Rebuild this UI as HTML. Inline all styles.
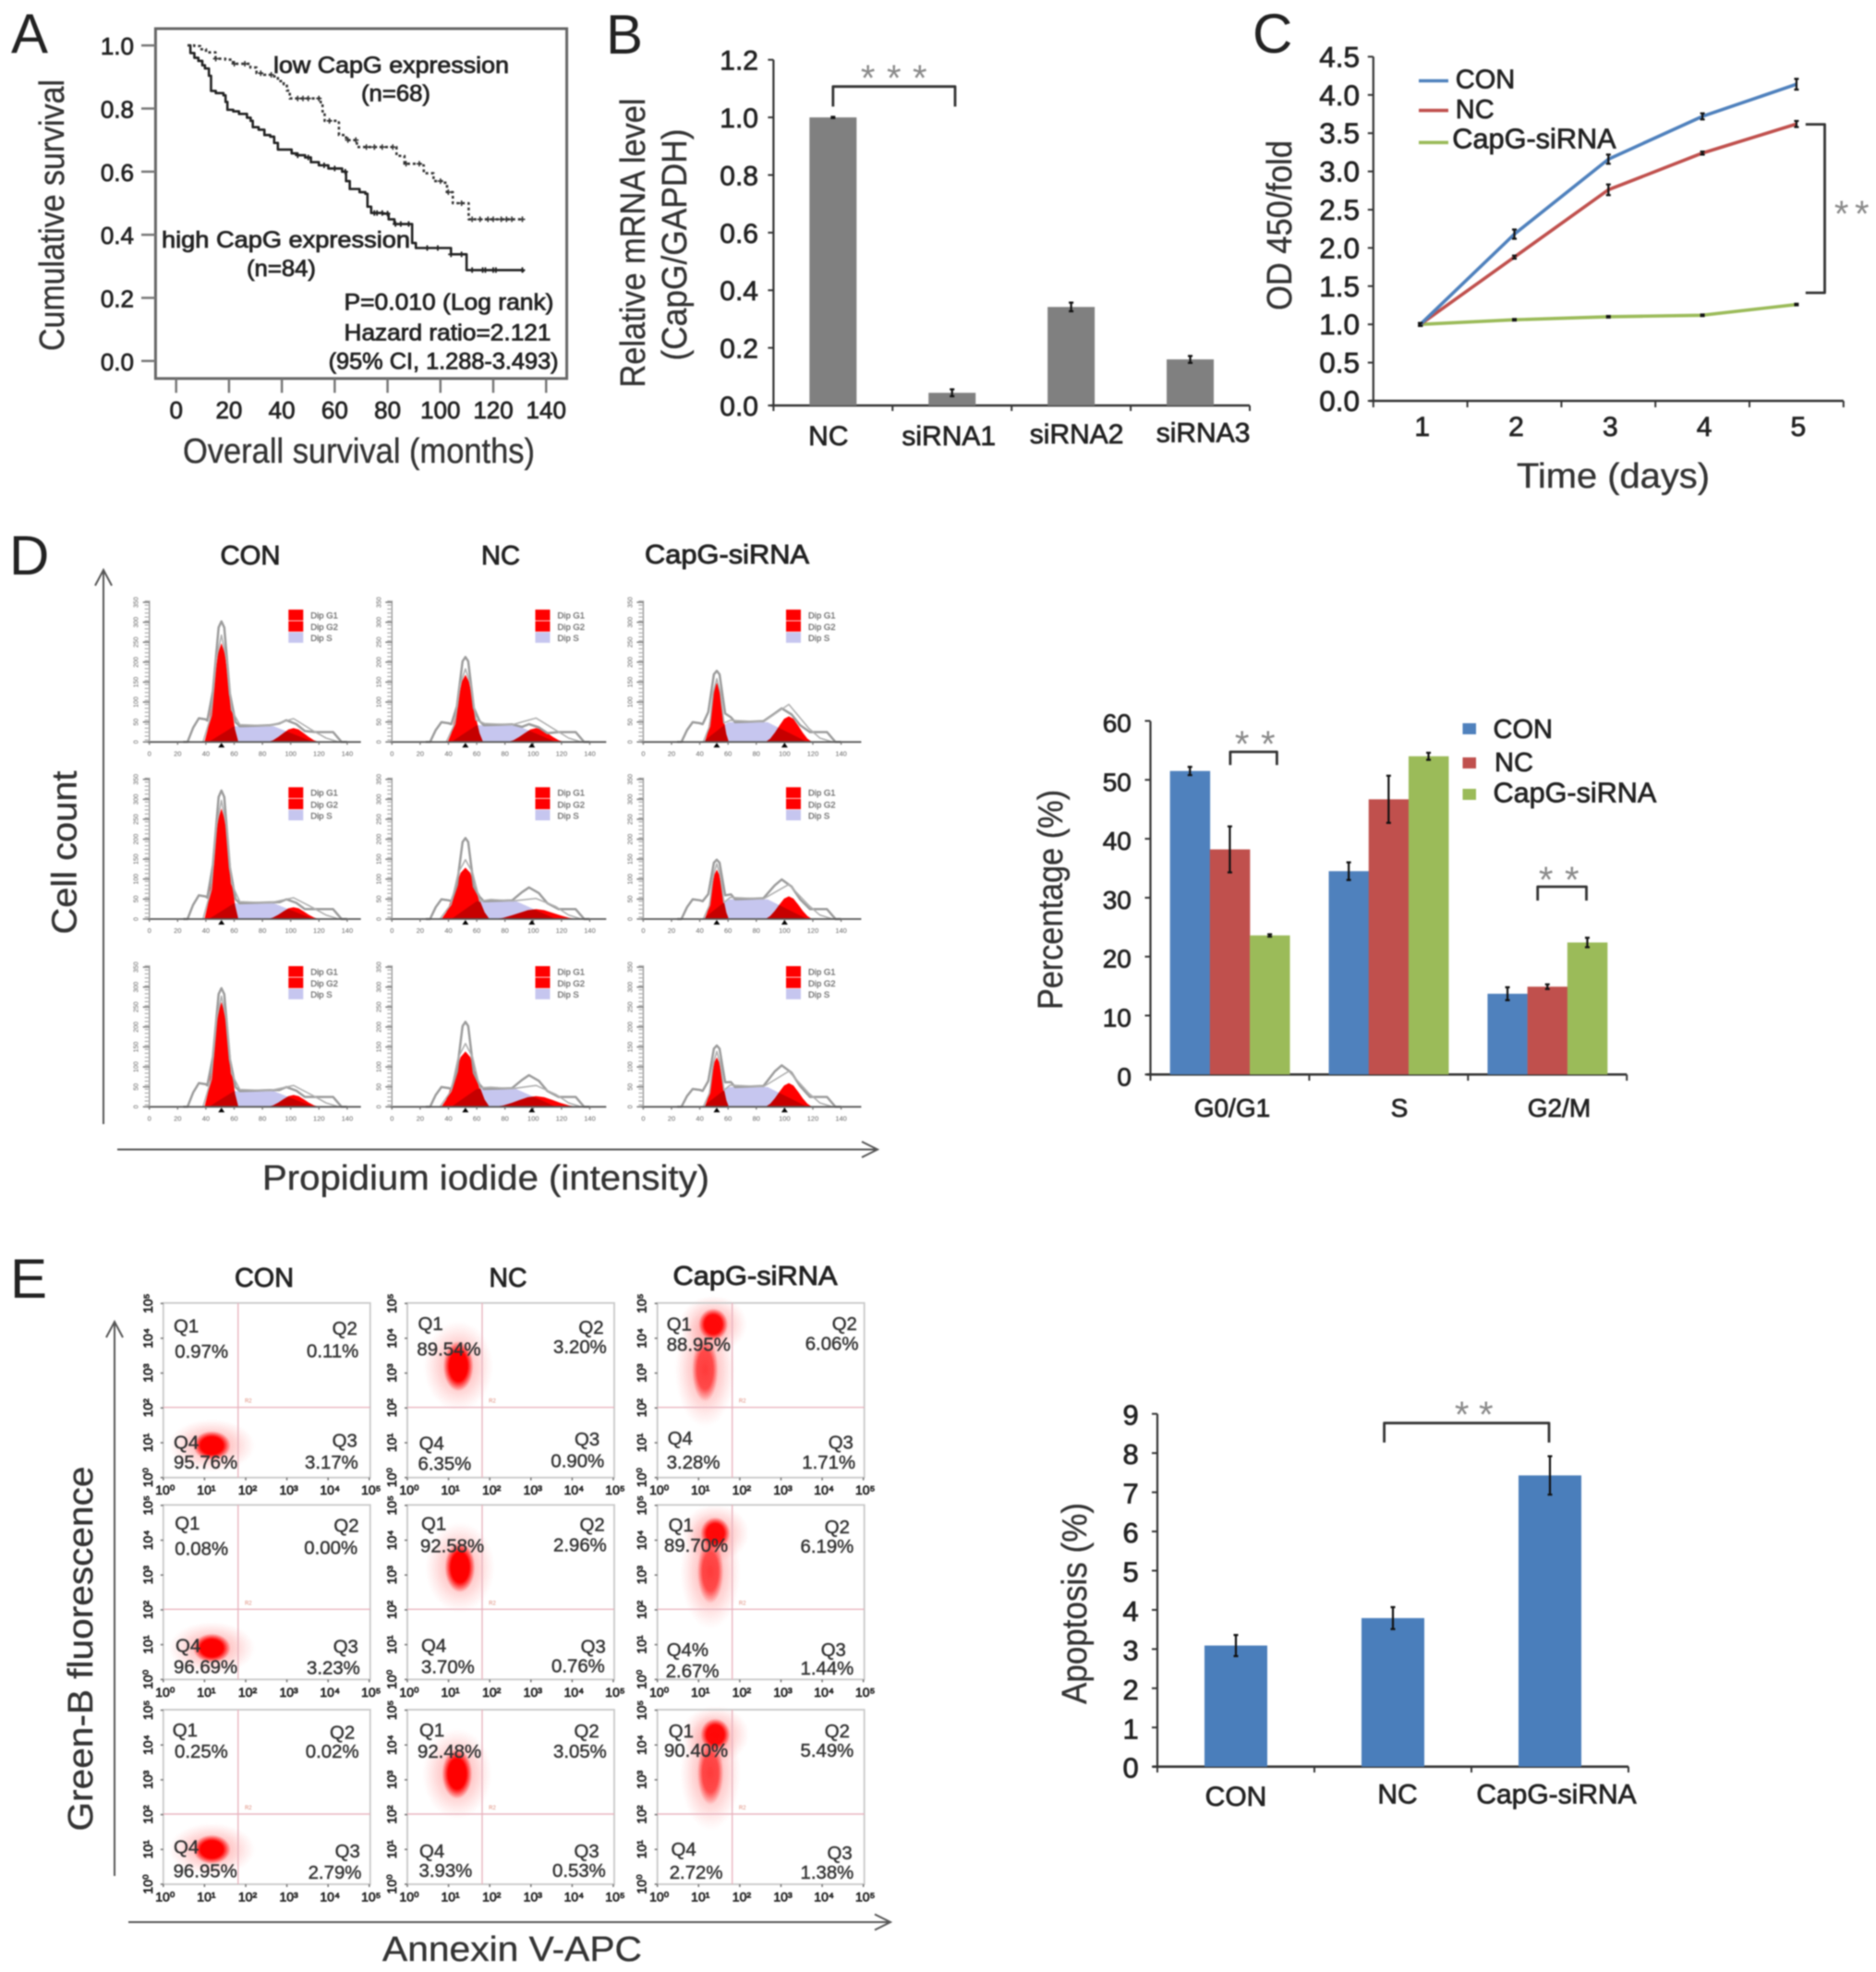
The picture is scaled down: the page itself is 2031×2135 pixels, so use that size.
<!DOCTYPE html>
<html lang="en">
<head>
<meta charset="utf-8">
<title>CapG knockdown figure</title>
<style>
html,body{margin:0;padding:0;background:#fff;width:2031px;height:2135px;overflow:hidden}
svg{display:block;filter:blur(.7px)}
text{font-family:"Liberation Sans",sans-serif}
.ltr{font-size:60px;fill:#222}
.ttl{font-size:38px;fill:#333;stroke:#333;stroke-width:.35px}
.anno{font-size:25px;fill:#222;stroke:#222;stroke-width:.8px}
.hd{font-size:29px;fill:#222;stroke:#222;stroke-width:.9px}
.star{font-size:40px;fill:#8a8a8a;letter-spacing:12.5px}
.q{font-size:20.4px;fill:#333;stroke:#333;stroke-width:.45px}
</style>
</head>
<body>
<svg id="fig" xmlns="http://www.w3.org/2000/svg" width="2031" height="2135" viewBox="0 0 2031 2135">
<defs>
<radialGradient id="blobCore"><stop offset="0" stop-color="#f00"/><stop offset=".6" stop-color="#f00"/><stop offset="1" stop-color="#f00" stop-opacity="0"/></radialGradient>
<radialGradient id="blobHalo"><stop offset="0" stop-color="#f22" stop-opacity=".45"/><stop offset=".6" stop-color="#f44" stop-opacity=".2"/><stop offset="1" stop-color="#f66" stop-opacity="0"/></radialGradient>
</defs>

<text class="ltr" x="12" y="57">A</text>
<text class="ltr" x="656" y="58">B</text>
<text class="ltr" x="1356" y="57">C</text>
<text class="ltr" x="10" y="622">D</text>
<text class="ltr" x="11" y="1405">E</text>

<!-- Panel A static text -->
<rect x="168.4" y="31" width="445.2" height="378.8" fill="none" stroke="#666" stroke-width="3"/>
<text class="ttl" transform="translate(69,233) rotate(-90)" text-anchor="middle" textLength="294" lengthAdjust="spacingAndGlyphs">Cumulative survival</text>
<text class="ttl" x="198" y="501" textLength="381" lengthAdjust="spacingAndGlyphs">Overall survival (months)</text>
<text class="anno" x="296" y="79" textLength="255" lengthAdjust="spacingAndGlyphs">low CapG expression</text>
<text class="anno" x="391" y="109.5" textLength="75" lengthAdjust="spacingAndGlyphs">(n=68)</text>
<text class="anno" x="175" y="268" textLength="269" lengthAdjust="spacingAndGlyphs">high CapG expression</text>
<text class="anno" x="267" y="299" textLength="75" lengthAdjust="spacingAndGlyphs">(n=84)</text>
<text class="anno" x="372.5" y="335.7" textLength="227" lengthAdjust="spacingAndGlyphs">P=0.010 (Log rank)</text>
<text class="anno" x="372.5" y="368.5" textLength="224" lengthAdjust="spacingAndGlyphs">Hazard ratio=2.121</text>
<text class="anno" x="355.6" y="399.5" textLength="249" lengthAdjust="spacingAndGlyphs">(95% CI, 1.288-3.493)</text>

<!-- Panel B static text -->
<text class="ttl" transform="translate(698,263) rotate(-90)" text-anchor="middle" textLength="313" lengthAdjust="spacingAndGlyphs">Relative mRNA level</text>
<text class="ttl" transform="translate(743,265) rotate(-90)" text-anchor="middle" textLength="251" lengthAdjust="spacingAndGlyphs">(CapG/GAPDH)</text>
<text class="star" x="974" y="98" text-anchor="middle">***</text>

<!-- Panel C static text -->
<text class="ttl" transform="translate(1398,244) rotate(-90)" text-anchor="middle" textLength="184" lengthAdjust="spacingAndGlyphs">OD 450/fold</text>
<text class="ttl" x="1642" y="528" textLength="209" lengthAdjust="spacingAndGlyphs">Time (days)</text>
<text class="star" x="2008" y="245" text-anchor="middle" style="letter-spacing:6.5px">**</text>

<!-- Panel D static text -->
<text class="hd" x="271" y="611" text-anchor="middle" textLength="65" lengthAdjust="spacingAndGlyphs">CON</text>
<text class="hd" x="542" y="611" text-anchor="middle" textLength="42" lengthAdjust="spacingAndGlyphs">NC</text>
<text class="hd" x="787" y="610" text-anchor="middle" textLength="178" lengthAdjust="spacingAndGlyphs">CapG-siRNA</text>
<path d="M112 1217V617M103 634L112 617L121 634" fill="none" stroke="#555" stroke-width="2"/>
<path d="M127 1244.5H950M933 1236L950 1244.5L933 1253" fill="none" stroke="#555" stroke-width="2"/>
<text class="ttl" transform="translate(82.5,923) rotate(-90)" text-anchor="middle" textLength="177" lengthAdjust="spacingAndGlyphs">Cell count</text>
<text class="ttl" x="284" y="1288" textLength="484" lengthAdjust="spacingAndGlyphs">Propidium iodide (intensity)</text>
<text class="ttl" transform="translate(1150,974) rotate(-90)" text-anchor="middle" textLength="238" lengthAdjust="spacingAndGlyphs">Percentage (%)</text>
<text class="star" x="1365" y="819" text-anchor="middle">**</text>
<text class="star" x="1694" y="966" text-anchor="middle">**</text>

<!-- Panel E static text -->
<text class="hd" x="286" y="1393" text-anchor="middle" textLength="64" lengthAdjust="spacingAndGlyphs">CON</text>
<text class="hd" x="550" y="1393" text-anchor="middle" textLength="41" lengthAdjust="spacingAndGlyphs">NC</text>
<text class="hd" x="817.5" y="1391" text-anchor="middle" textLength="178" lengthAdjust="spacingAndGlyphs">CapG-siRNA</text>
<path d="M124 2031V1431M115 1448L124 1431L133 1448" fill="none" stroke="#555" stroke-width="2"/>
<path d="M139 2081H964M947 2072.5L964 2081L947 2089.5" fill="none" stroke="#555" stroke-width="2"/>
<text class="ttl" transform="translate(100,1785) rotate(-90)" text-anchor="middle" textLength="395" lengthAdjust="spacingAndGlyphs">Green-B fluorescence</text>
<text class="ttl" x="414" y="2123" textLength="281" lengthAdjust="spacingAndGlyphs">Annexin V-APC</text>
<text class="ttl" transform="translate(1176,1736) rotate(-90)" text-anchor="middle" textLength="218" lengthAdjust="spacingAndGlyphs">Apoptosis (%)</text>
<text class="star" x="1601" y="1545" text-anchor="middle" style="letter-spacing:10.5px">**</text>

<g id="flowMarks"></g>
<g id="charts"></g>

<g>
<text class="q" x="188" y="1442.7">Q1</text><text class="q" x="189.3" y="1470">0.97%</text>
<text class="q" x="359.6" y="1445">Q2</text><text class="q" x="332" y="1469.3">0.11%</text>
<text class="q" x="188" y="1568.3">Q4</text><text class="q" x="188" y="1590">95.76%</text>
<text class="q" x="359.6" y="1566.7">Q3</text><text class="q" x="330" y="1590">3.17%</text>

<text class="q" x="452.5" y="1440">Q1</text><text class="q" x="451.4" y="1467.3">89.54%</text>
<text class="q" x="626.4" y="1444">Q2</text><text class="q" x="599" y="1465">3.20%</text>
<text class="q" x="453.6" y="1569.3">Q4</text><text class="q" x="452.5" y="1591.7">6.35%</text>
<text class="q" x="622" y="1565">Q3</text><text class="q" x="596.4" y="1588.3">0.90%</text>

<text class="q" x="721.7" y="1440.7">Q1</text><text class="q" x="721.7" y="1462.7">88.95%</text>
<text class="q" x="900.7" y="1440">Q2</text><text class="q" x="871.7" y="1461.7">6.06%</text>
<text class="q" x="722.7" y="1564">Q4</text><text class="q" x="721.7" y="1590">3.28%</text>
<text class="q" x="896.7" y="1568.3">Q3</text><text class="q" x="868.3" y="1590">1.71%</text>

<text class="q" x="189.3" y="1656">Q1</text><text class="q" x="189.3" y="1683.3">0.08%</text>
<text class="q" x="361.4" y="1658.3">Q2</text><text class="q" x="329.3" y="1682.7">0.00%</text>
<text class="q" x="190" y="1788.3">Q4</text><text class="q" x="188" y="1811.7">96.69%</text>
<text class="q" x="360.7" y="1789.3">Q3</text><text class="q" x="332" y="1812.7">3.23%</text>

<text class="q" x="456" y="1656.7">Q1</text><text class="q" x="455" y="1680.7">92.58%</text>
<text class="q" x="627.5" y="1657.3">Q2</text><text class="q" x="599" y="1679.3">2.96%</text>
<text class="q" x="456" y="1788.3">Q4</text><text class="q" x="456" y="1811.7">3.70%</text>
<text class="q" x="628.6" y="1789.3">Q3</text><text class="q" x="597" y="1810.7">0.76%</text>

<text class="q" x="723.6" y="1658">Q1</text><text class="q" x="719" y="1680">89.70%</text>
<text class="q" x="892.8" y="1660">Q2</text><text class="q" x="866.5" y="1681">6.19%</text>
<text class="q" x="721.7" y="1793">Q4%</text><text class="q" x="720.7" y="1816">2.67%</text>
<text class="q" x="888.7" y="1793">Q3</text><text class="q" x="866.5" y="1813">1.44%</text>

<text class="q" x="186.8" y="1880">Q1</text><text class="q" x="189" y="1903">0.25%</text>
<text class="q" x="357" y="1882.5">Q2</text><text class="q" x="330.8" y="1903">0.02%</text>
<text class="q" x="188" y="2006.5">Q4</text><text class="q" x="187.6" y="2032.4">96.95%</text>
<text class="q" x="362.6" y="2011">Q3</text><text class="q" x="333.6" y="2034">2.79%</text>

<text class="q" x="454" y="1880">Q1</text><text class="q" x="452" y="1903">92.48%</text>
<text class="q" x="621.5" y="1881">Q2</text><text class="q" x="599" y="1903">3.05%</text>
<text class="q" x="454" y="2011">Q4</text><text class="q" x="453.5" y="2032">3.93%</text>
<text class="q" x="621.5" y="2011">Q3</text><text class="q" x="598" y="2032">0.53%</text>

<text class="q" x="723.8" y="1881">Q1</text><text class="q" x="719" y="1902">90.40%</text>
<text class="q" x="892.8" y="1881">Q2</text><text class="q" x="866.5" y="1902">5.49%</text>
<text class="q" x="726.5" y="2009">Q4</text><text class="q" x="724.7" y="2034">2.72%</text>
<text class="q" x="895.5" y="2013">Q3</text><text class="q" x="866.5" y="2034">1.38%</text>
</g>
</svg>

<script>
/* ---------- Panel A data ---------- */
const survivalTicksY = [0, 0.2, 0.4, 0.6, 0.8, 1.0];
const survivalTicksX = [0, 20, 40, 60, 80, 100, 120, 140];
const highMonths = [4.3,5.4,6.9,8.4,9.9,10.9,12.4,13.2,15,17.9,18.7,19.4,21.6,23.8,26.8,28.2,29,31.2,33.4,35.6,37.1,38.5,43.7,45.9,48.8,51,54,57.6,62.8,64.3,65.7,69.4,71.6,72.4,73.8,78.2,80.4,82.6,89,89.3,90.7,102.5,104,108.4,109.9,131.2];
const highSurvival = [1,.976,.961,.951,.937,.927,.904,.856,.849,.842,.821,.796,.791,.783,.771,.761,.741,.733,.716,.711,.691,.67,.658,.652,.645,.63,.62,.61,.6,.57,.545,.535,.53,.489,.469,.467,.449,.434,.434,.374,.358,.358,.338,.338,.288,.282];
const lowMonths = [4.3,6.9,9.1,11.3,14.9,18.6,21.5,25.9,28.1,30.4,33.3,36.3,38.5,40.7,41.9,43,49.6,54.7,55.4,56.2,61,61.6,64.3,68,68.4,81.9,83.4,86.4,93,93.7,97.4,101,102.5,104.7,109.9,110.7,131.2];
const lowSurvival = [1,.998,.988,.978,.958,.955,.942,.942,.93,.912,.907,.902,.887,.877,.857,.832,.832,.82,.791,.761,.756,.716,.7,.7,.678,.678,.65,.625,.62,.595,.57,.565,.535,.5,.5,.449,.449];
const highCensored = [46,50,56,60,64,75,76,78,80,83,85,88,95,99,104,108,112,116,117,120,121,131];
const lowCensored = [15,22,26,32,36,46,48,50,54,58,65,68,72,75,78,82,87,92,100,103,108,112,115,118,120,123,125,127,131];

/* ---------- Panel B data ---------- */
const mrnaCategories = ['NC','siRNA1','siRNA2','siRNA3'];
const mrnaValues = [1.0,.044,.342,.16];
const mrnaErrors = [.002,.012,.015,.012];
const mrnaTicks = [0,.2,.4,.6,.8,1.0,1.2];

/* ---------- Panel C data ---------- */
const odDays = [1,2,3,4,5];
const odTicks = [0,.5,1,1.5,2,2.5,3,3.5,4,4.5];
const odCON = [1,2.18,3.16,3.72,4.14];
const odNC = [1,1.88,2.76,3.24,3.62];
const odSi = [1,1.06,1.1,1.12,1.26];
const odErrCON = [.02,.06,.06,.04,.07];
const odErrNC = [.02,.02,.07,.02,.04];
const odErrSi = [.01,.01,.01,.01,.01];

/* ---------- Panel D histogram data (row by row) ---------- */
const histXTicks = ['0','20','40','60','80','100','120','140'];
const histYTicks = ['0','50','100','150','200','250','300','350'];
const g1Peak = [50,34,30,56,26,25,53,28,25];
const g1Mean = [51,52,52,51,52,52,51,52,52];
const g1Spread = [12,12.5,8.5,12,17,8.5,12,17,8.5];
const g2Peak = [7,7,13,6,5,11.5,6,5.4,12];
const g2Mean = [102,102,103,102,102,103,102,102,103];
const g2Spread = [18,20,16.5,18,29,16.5,18,29,16.5];
const sLevel = [8,8.5,10,8,9,10,8,9,10];
const rawPeak = [61,43,36,65,41,30,60,43,31];
const modelPeak = [54,37,32,60,30,28,56,32,28];
const rawG2 = [11,9,17,10,16,20,10,16,21];
const shoulder = [12,10,10,12,10,10,12,10,9];
const peakOffsets = [-1,-.8,-.6,-.4,-.2,0,.2,.4,.6,.8,1];
const peakHeights = [0,.13,.36,.64,.9,1,.9,.64,.36,.13,0];

/* ---------- Panel D bar data ---------- */
const cyclePhases = ['G0/G1','S','G2/M'];
const cycleCON = [51.5,34.5,13.7];
const cycleNC = [38.2,46.7,14.9];
const cycleSi = [23.6,54,22.4];
const cycleErrCON = [.7,1.5,1.1];
const cycleErrNC = [3.9,4,.4];
const cycleErrSi = [.2,.6,.8];
const cycleTicks = [0,10,20,30,40,50,60];

/* ---------- Panel E flow data (row by row) ---------- */
const decadeLabels = ['10⁰','10¹','10²','10³','10⁴','10⁵'];
const blobLogX = [1.17,1.23,1.15,1.17,1.27,1.28,1.17,1.2,1.28];
const blobLogY = [.92,3.2,3.1,.9,3.22,3.1,1,3.17,3.2];
const blobSpreadX = [.46,.37,.32,.46,.37,.32,.46,.37,.32];
const blobSpreadY = [.42,.72,.92,.42,.72,.92,.42,.72,.92];
const blobStrength = [1,1,.62,1,1,.62,1,1,.62];
const upperLogX = [0,0,1.35,0,0,1.4,0,0,1.4];
const upperLogY = [0,0,4.4,0,0,4.2,0,0,4.3];

/* ---------- Panel E bar data ---------- */
const apoCategories = ['CON','NC','CapG-siRNA'];
const apoValues = [3.09,3.79,7.43];
const apoErrors = [.27,.28,.49];
const apoTicks = [0,1,2,3,4,5,6,7,8,9];

/* ---------- helpers ---------- */
const NS = 'http://www.w3.org/2000/svg';
const BLUE = '#4f81bd', RED = '#c0504d', GREEN = '#9bbb59';
const chartRoot = document.getElementById('charts');
const flowRoot = document.getElementById('flowMarks');

function mk(tag, attrs, parent) {
  const el = document.createElementNS(NS, tag);
  for (const k in attrs) el.setAttribute(k, attrs[k]);
  parent.appendChild(el);
  return el;
}
function line(parent, x1, y1, x2, y2, stroke, w, name) {
  const el = mk('line', {x1, y1, x2, y2, stroke, 'stroke-width': w}, parent);
  
  
  return el;
}
function box(parent, x, y, width, height, fill, name) {
  const el = mk('rect', {x, y, width, height, fill}, parent);
  
  
  return el;
}
function label(parent, str, x, y, size, anchor, fill, stroke, name) {
  const el = mk('text', {x, y, 'font-size': size, 'text-anchor': anchor, fill, stroke: stroke || 'none', 'stroke-width': stroke ? .75 : 0}, parent);
  el.textContent = str;
  
  
  return el;
}
function pathEl(parent, d, fill, stroke, w, name) {
  const el = mk('path', {d, fill, stroke, 'stroke-width': w, 'stroke-linejoin': 'round'}, parent);
  
  
  return el;
}
function errorBar(parent, x, yHi, yLo, cap, name) {
  const d = 'M' + x + ' ' + yHi + 'V' + yLo + 'M' + (x - cap) + ' ' + yHi + 'H' + (x + cap) + 'M' + (x - cap) + ' ' + yLo + 'H' + (x + cap);
  return pathEl(parent, d, 'none', '#111', 2.2, name);
}
function bracket(parent, x1, x2, yTop, yBot, name) {
  return pathEl(parent, 'M' + x1 + ' ' + yBot + 'V' + yTop + 'H' + x2 + 'V' + yBot, 'none', '#333', 2.8, name);
}

/* ---------- Panel A ---------- */
(function () {
  const x = m => 190.7 + m * 2.861;
  const y = v => 390.8 - v * 341.6;
  survivalTicksY.forEach(t => {
    line(chartRoot, 153, y(t), 168.4, y(t), '#777', 2.5, 'survival-y-tick');
    label(chartRoot, t.toFixed(1), 145, y(t) + 10, 26, 'end', '#222', '#222', 'survival-y-tick-label');
  });
  survivalTicksX.forEach(t => {
    line(chartRoot, x(t), 409.8, x(t), 425.3, '#777', 2.5, 'survival-x-tick');
    label(chartRoot, String(t), x(t), 452.8, 26, 'middle', '#222', '#222', 'survival-x-tick-label');
  });
  function stepPath(ms, vs) {
    let d = 'M' + x(ms[0]) + ' ' + y(vs[0]);
    for (let i = 1; i < ms.length; i++) d += 'H' + x(ms[i]) + 'V' + y(vs[i]);
    return d;
  }
  function valueAt(ms, vs, m) {
    let v = vs[0];
    for (let i = 0; i < ms.length; i++) if (ms[i] <= m) v = vs[i];
    return v;
  }
  pathEl(chartRoot, stepPath(highMonths, highSurvival), 'none', '#222', 2.6, 'high-capg-survival-curve');
  const lo = pathEl(chartRoot, stepPath(lowMonths, lowSurvival), 'none', '#333', 2.6, 'low-capg-survival-curve');
  lo.setAttribute('stroke-dasharray', '3 3');
  highCensored.forEach(m => {
    const v = valueAt(highMonths, highSurvival, m);
    pathEl(chartRoot, 'M' + (x(m) - 3) + ' ' + y(v) + 'h6M' + x(m) + ' ' + (y(v) - 3) + 'v6', 'none', '#222', 1.8, 'high-capg-censor-mark');
  });
  lowCensored.forEach(m => {
    const v = valueAt(lowMonths, lowSurvival, m);
    pathEl(chartRoot, 'M' + (x(m) - 3) + ' ' + y(v) + 'h6M' + x(m) + ' ' + (y(v) - 3) + 'v6', 'none', '#333', 1.6, 'low-capg-censor-mark');
  });
})();

/* ---------- Panel B ---------- */
(function () {
  const y = v => 439 - v * 311.9;
  const band = 128.9, x0 = 837.4;
  const cx = i => x0 + band * (i + .5);
  line(chartRoot, x0, 64.7, x0, 439, '#333', 2.2, 'mrna-y-axis');
  line(chartRoot, x0 - 3, 439, x0 + band * 4, 439, '#333', 2.6, 'mrna-x-axis');
  mrnaTicks.forEach(t => {
    line(chartRoot, x0 - 6, y(t), x0, y(t), '#333', 2, 'mrna-y-tick');
    label(chartRoot, t.toFixed(1), 821, y(t) + 11, 30, 'end', '#222', '#222', 'mrna-y-tick-label');
  });
  for (let i = 0; i <= mrnaCategories.length; i++) {
    line(chartRoot, x0 + band * i, 439, x0 + band * i, 445, '#333', 2, 'mrna-x-tick');
  }
  const labelShift = [-5, -3.5, 6, 14];
  const labelDrop = [482, 482, 480, 478.6];
  mrnaCategories.forEach((c, i) => {
    box(chartRoot, cx(i) - 25.5, y(mrnaValues[i]), 51, 439 - y(mrnaValues[i]), '#808080', 'mrna-bar-' + c);
    errorBar(chartRoot, cx(i), y(mrnaValues[i] + mrnaErrors[i]), y(mrnaValues[i] - mrnaErrors[i]), 2.5, 'mrna-error-bar-' + c);
    label(chartRoot, c, cx(i) + labelShift[i], labelDrop[i], 30, 'middle', '#222', '#222', 'mrna-x-label');
  });
  bracket(chartRoot, cx(0), 1034, 93.7, 115.4, 'mrna-significance-bracket');
})();

/* ---------- Panel C ---------- */
(function () {
  const y = v => 434 - v * 82.8;
  const band = 101.8, x0 = 1486.8;
  const x = d => x0 + band * (d - .5);
  line(chartRoot, x0, 61.4, x0, 434, '#333', 2.2, 'od-y-axis');
  line(chartRoot, x0 - 4, 434, x0 + band * 5, 434, '#333', 2.6, 'od-x-axis');
  odTicks.forEach(t => {
    line(chartRoot, x0 - 6, y(t), x0, y(t), '#333', 2, 'od-y-tick');
    label(chartRoot, t.toFixed(1), 1472, y(t) + 11, 31.5, 'end', '#222', '#222', 'od-y-tick-label');
  });
  for (let i = 0; i <= odDays.length; i++) {
    line(chartRoot, x0 + band * i, 434, x0 + band * i, 441, '#333', 2, 'od-x-tick');
  }
  odDays.forEach(d => {
    label(chartRoot, String(d), x(d) + 2, 472, 30, 'middle', '#222', '#222', 'od-x-tick-label');
  });
  function series(vals, errs, color, nm) {
    const d = vals.map((v, i) => (i ? 'L' : 'M') + x(odDays[i]) + ' ' + y(v)).join('');
    pathEl(chartRoot, d, 'none', color, 3.6, 'od-line-' + nm);
    vals.forEach((v, i) => {
      errorBar(chartRoot, x(odDays[i]), y(v + errs[i]), y(v - errs[i]), 2.5, 'od-error-bar-' + nm);
    });
  }
  series(odSi, odErrSi, GREEN, 'capg-sirna');
  series(odNC, odErrNC, RED, 'nc');
  series(odCON, odErrCON, BLUE, 'con');
  pathEl(chartRoot, 'M1954.8 134.6H1975.5V317H1954.8', 'none', '#333', 2.8, 'od-significance-bracket');
  line(chartRoot, 1536, 87.5, 1568, 87.5, BLUE, 3.6, 'od-legend-swatch-con');
  line(chartRoot, 1536, 119.6, 1568, 119.6, RED, 3.6, 'od-legend-swatch-nc');
  line(chartRoot, 1536, 154.3, 1568, 154.3, GREEN, 3.6, 'od-legend-swatch-capg-sirna');
  label(chartRoot, 'CON', 1575.8, 95.7, 29, 'start', '#222', '#222', 'od-legend-label-con');
  label(chartRoot, 'NC', 1575.8, 127.9, 29, 'start', '#222', '#222', 'od-legend-label-nc');
  label(chartRoot, 'CapG-siRNA', 1572.3, 160.7, 30.7, 'start', '#222', '#222', 'od-legend-label-capg-sirna');
})();

/* ---------- Panel D histograms ---------- */
(function () {
  const columnX = [161.7, 424.3, 696.4];
  const rowBase = [803.3, 995, 1198.3];
  const legendTop = [660, 852.3, 1046];
  const legendX = [150.6, 155.2, 154.6];
  const axisRight = [229, 232, 236];
  const unit = 1.53, tick = 2.14;
  for (let r = 0; r < 3; r++) for (let c = 0; c < 3; c++) {
    const p = r * 3 + c, ax = columnX[c], base = rowBase[r];
    const g = mk('g', {}, flowRoot);
    
    
    const X = ch => ax + ch * unit;
    const Y = v => base - v * tick;
    const pts = a => 'M' + a.map(q => X(q[0]).toFixed(1) + ' ' + Y(q[1]).toFixed(1)).join('L');
    const S = sLevel[p];
    pathEl(g, pts([[42,0],[60,S],[88,S],[116,0]]) + 'Z', '#c6c6ef', 'none', 0, 'dip-s-area');
    const g1 = peakOffsets.map((o, i) => [g1Mean[p] + o * g1Spread[p], g1Peak[p] * peakHeights[i]]);
    const g1Area = pathEl(g, pts(g1) + 'Z', '#ff0000', 'none', 0, 'dip-g1-area');
    g1Area.style.mixBlendMode = 'multiply';
    const g2 = peakOffsets.map((o, i) => [g2Mean[p] + o * g2Spread[p], g2Peak[p] * peakHeights[i]]);
    const g2Area = pathEl(g, pts(g2) + 'Z', '#ff0000', 'none', 0, 'dip-g2-area');
    g2Area.style.mixBlendMode = 'multiply';
    const m = g1Mean[p], sh = shoulder[p], rp = rawPeak[p], rg = rawG2[p], gm = g2Mean[p] - 2;
    const raw = [[24,0],[27,0],[31,sh*.6],[35,sh],[40,sh*.95],[m-10,sh*.9],[m-6,rp*.42],[m-2,rp*.95],[m,rp],[m+2,rp*.95],[m+6,rp*.4],[m+10,S*1.25],[m+13,S],[85,S*1.05],[gm-8,rg*.85],[gm-3,rg],[gm+4,rg*.82],[gm+10,rg*.5],[118,5],[130,5],[136,0],[140,0]];
    pathEl(g, pts(raw), 'none', '#9c9c9c', 2.5, 'raw-histogram-outline');
    const mp = modelPeak[p], sp = g1Spread[p];
    const model = [[m-sp-1,0],[m-sp*.6,mp*.25],[m-sp*.3,mp*.78],[m,mp],[m+sp*.3,mp*.78],[m+sp*.6,mp*.3],[m+sp+1,S*1.1],[85,S*1.02],[gm+2,g2Peak[p]+S*.6],[gm+16,S*.7],[125,2],[134,0]];
    pathEl(g, pts(model), 'none', '#b0b0b0', 1.6, 'model-fit-outline');
    line(g, ax - 2, base, ax + axisRight[c], base, '#555', 1.8, 'histogram-x-axis');
    line(g, ax, base - 153, ax, base, '#999', 1.4, 'histogram-y-axis');
    const minor = line(g, ax - 3, base - 153, ax - 3, base, '#999', 4, 'histogram-y-minor-ticks');
    minor.setAttribute('stroke-dasharray', '1 3.3');
    histYTicks.forEach((t, i) => {
      const ty = base - i * 21.6;
      line(g, ax - 7, ty, ax, ty, '#777', 1.4, 'histogram-y-tick');
      const el = label(g, t, ax - 15, ty + 3, 7, 'middle', '#666', '', 'histogram-y-tick-label');
      el.setAttribute('transform', 'rotate(-90 ' + (ax - 15) + ' ' + ty + ')');
    });
    histXTicks.forEach((t, i) => {
      line(g, ax + i * 20 * unit, base, ax + i * 20 * unit, base + 3, '#777', 1.4, 'histogram-x-tick');
      label(g, t, ax + i * 20 * unit, base + 15, 7.5, 'middle', '#666', '', 'histogram-x-tick-label');
    });
    pathEl(g, 'M' + (X(m) - 3.5) + ' ' + (base + 6) + 'l3.5 -5l3.5 5Z', '#000', 'none', 0, 'g1-peak-marker');
    if (c > 0) {
      pathEl(g, 'M' + (X(g2Mean[p] - 3) - 3.5) + ' ' + (base + 6) + 'l3.5 -5l3.5 5Z', '#000', 'none', 0, 'g2-peak-marker');
    }
    const lx = ax + legendX[c], ly = legendTop[r];
    box(g, lx, ly, 16, 11.7, '#f00', 'legend-swatch-dip-g1');
    box(g, lx, ly + 12.5, 16, 11.3, '#f00', 'legend-swatch-dip-g2');
    box(g, lx, ly + 24.5, 16, 11.4, '#c6c6ef', 'legend-swatch-dip-s');
    label(g, 'Dip G1', lx + 24, ly + 9.3, 9.5, 'start', '#666', '#777', 'legend-label-dip-g1').setAttribute('stroke-width', '.3');
    label(g, 'Dip G2', lx + 24, ly + 22, 9.5, 'start', '#666', '#777', 'legend-label-dip-g2').setAttribute('stroke-width', '.3');
    label(g, 'Dip S', lx + 24, ly + 34, 9.5, 'start', '#666', '#777', 'legend-label-dip-s').setAttribute('stroke-width', '.3');
  }
})();

/* ---------- Panel D bars ---------- */
(function () {
  const y = v => 1163.3 - v * 6.38;
  const x0 = 1245.5, band = 171.9, bw = 43.2;
  line(chartRoot, x0, 780.7, x0, 1163.3, '#333', 2.2, 'cycle-y-axis');
  line(chartRoot, x0 - 4, 1163.3, x0 + band * 3, 1163.3, '#333', 2.6, 'cycle-x-axis');
  cycleTicks.forEach(t => {
    line(chartRoot, x0 - 6, y(t), x0, y(t), '#333', 2, 'cycle-y-tick');
    label(chartRoot, String(t), 1224.9, y(t) + 12, 28, 'end', '#222', '#222', 'cycle-y-tick-label');
  });
  for (let i = 0; i <= cyclePhases.length; i++) {
    line(chartRoot, x0 + band * i, 1163.3, x0 + band * i, 1170, '#333', 2, 'cycle-x-tick');
  }
  const seriesVals = [cycleCON, cycleNC, cycleSi];
  const seriesErrs = [cycleErrCON, cycleErrNC, cycleErrSi];
  const seriesCols = [BLUE, RED, GREEN];
  const seriesNames = ['con', 'nc', 'capg-sirna'];
  const labelShift = [2.5, 11.6, 12.7];
  cyclePhases.forEach((ph, i) => {
    const cx = x0 + band * (i + .5);
    seriesVals.forEach((vals, s) => {
      const bx = cx + (s - 1.5) * bw;
      box(chartRoot, bx, y(vals[i]), bw + .3, 1163.3 - y(vals[i]), seriesCols[s], 'cycle-bar-' + seriesNames[s]);
    });
    seriesVals.forEach((vals, s) => {
      const bx = cx + (s - 1) * bw;
      errorBar(chartRoot, bx, y(vals[i] + seriesErrs[s][i]), y(vals[i] - seriesErrs[s][i]), 2.5, 'cycle-error-bar-' + seriesNames[s]);
    });
    label(chartRoot, ph, cx + labelShift[i], 1209, 28, 'middle', '#222', '#222', 'cycle-x-label');
  });
  bracket(chartRoot, 1331.9, 1382.4, 814, 828.3, 'g1-significance-bracket');
  bracket(chartRoot, 1664.7, 1717.5, 960, 975, 'g2m-significance-bracket');
  box(chartRoot, 1583.5, 783, 14.5, 12, BLUE, 'cycle-legend-swatch-con');
  box(chartRoot, 1583.5, 820, 14.5, 12, RED, 'cycle-legend-swatch-nc');
  box(chartRoot, 1583.5, 854, 14.5, 12, GREEN, 'cycle-legend-swatch-capg-sirna');
  label(chartRoot, 'CON', 1616.5, 799, 29, 'start', '#222', '#222', 'cycle-legend-label-con');
  label(chartRoot, 'NC', 1618, 835, 29, 'start', '#222', '#222', 'cycle-legend-label-nc');
  label(chartRoot, 'CapG-siRNA', 1616.5, 868.3, 30.6, 'start', '#222', '#222', 'cycle-legend-label-capg-sirna');
})();

/* ---------- Panel E flow plots ---------- */
(function () {
  const columnLeft = [176.8, 441, 711.7];
  const rowTop = [1410.7, 1629.3, 1851];
  const W = 224, H = 189;
  for (let r = 0; r < 3; r++) for (let c = 0; c < 3; c++) {
    const p = r * 3 + c, L = columnLeft[c], T = rowTop[r], B = T + H;
    const g = mk('g', {}, flowRoot);
    
    
    const X = d => L + .7 + d * 44.3;
    const Y = d => B - d * 37.7;
    function blob(lx, ly, sx, sy, k, nm) {
      const halo = mk('ellipse', {cx: X(lx), cy: Y(ly), rx: sx * 44.3 * 2.3, ry: sy * 37.7 * 1.8, fill: 'url(#blobHalo)'}, g);
      
      
      const core = mk('ellipse', {cx: X(lx), cy: Y(ly), rx: sx * 44.3, ry: sy * 37.7, fill: 'url(#blobCore)', opacity: k}, g);
      
      
    }
    blob(blobLogX[p], blobLogY[p], blobSpreadX[p], blobSpreadY[p], blobStrength[p], 'cell-cluster');
    if (upperLogY[p] > 0) blob(upperLogX[p], upperLogY[p], .36, .46, .95, 'upper-cell-cluster');
    const frame = box(g, L, T, W, H, 'none', 'scatter-frame');
    frame.setAttribute('stroke', '#c8c8c8');
    frame.setAttribute('stroke-width', '1.8');
    line(g, L + 81, T, L + 81, B, '#e9b4bf', 1.4, 'quadrant-gate-vertical');
    line(g, L, T + 113, L + W, T + 113, '#e9b4bf', 1.4, 'quadrant-gate-horizontal');
    label(g, 'R2', L + 92, T + 108, 6, 'middle', '#d87', '', 'gate-label');
    decadeLabels.forEach((t, i) => {
      const tx = L + i * 44.6;
      line(g, tx, B, tx, B + 3, '#777', 1.6, 'scatter-x-tick');
      label(g, t, tx + 2, B + 18.5, 14, 'middle', '#222', '#222', 'scatter-x-tick-label');
      const ty = B - i * 37.7;
      line(g, L - 3, ty, L, ty, '#777', 1.6, 'scatter-y-tick');
      const yl = label(g, t, L - 16, ty + 4, 14, 'middle', '#222', '#222', 'scatter-y-tick-label');
      yl.setAttribute('transform', 'rotate(-90 ' + (L - 16) + ' ' + ty + ')');
    });
  }
})();

/* ---------- Panel E bars ---------- */
(function () {
  const y = v => 1912.7 - v * 42.44;
  const x0 = 1253, band = 170;
  line(chartRoot, x0, 1530.7, x0, 1912.7, '#333', 2.2, 'apoptosis-y-axis');
  line(chartRoot, x0 - 5, 1912.7, x0 + band * 3, 1912.7, '#333', 2.6, 'apoptosis-x-axis');
  apoTicks.forEach(t => {
    line(chartRoot, x0 - 6, y(t), x0, y(t), '#333', 2, 'apoptosis-y-tick');
    label(chartRoot, String(t), 1232.7, y(t) + 12, 31, 'end', '#222', '#222', 'apoptosis-y-tick-label');
  });
  for (let i = 0; i <= apoCategories.length; i++) {
    line(chartRoot, x0 + band * i, 1912.7, x0 + band * i, 1919, '#333', 2, 'apoptosis-x-tick');
  }
  const shift = [0, 5, 7];
  const drop = [1955, 1952.7, 1952.7];
  apoCategories.forEach((c, i) => {
    const cx = x0 + band * (i + .5);
    box(chartRoot, cx - 34, y(apoValues[i]), 68, 1912.7 - y(apoValues[i]), '#4a7ebb', 'apoptosis-bar-' + c);
    errorBar(chartRoot, cx, y(apoValues[i] + apoErrors[i]), y(apoValues[i] - apoErrors[i]), 2.5, 'apoptosis-error-bar-' + c);
    label(chartRoot, c, cx + shift[i], drop[i], 30, 'middle', '#222', '#222', 'apoptosis-x-label');
  });
  bracket(chartRoot, 1498.6, 1677, 1540.7, 1561.7, 'apoptosis-significance-bracket');
})();
</script>
</body>
</html>
